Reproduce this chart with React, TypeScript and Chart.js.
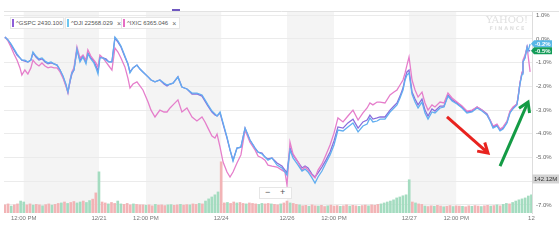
import React, { useEffect, useRef } from "react";
import { Chart, registerables } from "chart.js";
Chart.register(...registerables);

const FONT = "'Liberation Sans', Arial, sans-serif";

// time axis in trading hours since 12/20 open
const times = [
  1.50, 1.66, 1.82, 1.98, 2.14, 2.30, 2.40, 2.56, 2.72, 2.88,
  2.99, 3.15, 3.31, 3.47, 3.63, 3.79, 3.95, 4.11, 4.27, 4.43,
  4.59, 4.74, 4.85, 4.96, 5.06, 5.17, 5.33, 5.49, 5.65, 5.81,
  5.91, 6.07, 6.23, 6.34, 6.45, 6.55, 6.71, 6.87, 7.03, 7.19,
  7.35, 7.51, 7.67, 7.88, 8.04, 8.15, 8.31, 8.52, 8.68, 8.84,
  9.11, 9.27, 9.48, 9.74, 9.96, 10.12, 10.28, 10.44, 10.70, 10.91,
  11.18, 11.45, 11.71, 11.98, 12.14, 12.30, 12.51, 12.67, 12.78, 12.94,
  13.10, 13.31, 13.47, 13.63, 13.84, 14.05, 14.27, 14.53, 14.80, 14.96,
  15.17, 15.33, 15.49, 15.70, 15.97, 16.23, 16.39, 16.50, 16.66, 16.82,
  17.09, 17.30, 17.46, 17.62, 17.83, 17.99, 18.15, 18.36, 18.57, 18.79,
  19.00, 19.21, 19.48, 19.74, 20.01, 20.28, 20.54, 20.76, 20.91, 21.07,
  21.29, 21.45, 21.71, 21.98, 22.19, 22.35, 22.51, 22.67, 22.78, 22.88,
  22.99, 23.15, 23.31, 23.47, 23.68, 23.84, 24.00, 24.21, 24.37, 24.64,
  24.85, 25.06, 25.28, 25.54, 25.81, 26.07, 26.34, 26.61, 26.87, 27.14,
  27.30, 27.46, 27.67, 27.83, 27.99, 28.20, 28.36, 28.52, 28.73, 28.79,
  28.89, 29.00, 29.05, 29.16, 29.27, 29.32, 29.43,
];

const gspc = [
  0.08, -0.04, -0.25, -0.46, -0.68, -0.80, -0.89, -0.93, -0.97, -0.89,
  -0.59, -0.76, -0.89, -0.84, -0.97, -1.05, -1.01, -1.05, -1.10, -1.31,
  -1.60, -1.94, -2.24, -1.81, -1.48, -1.31, -0.46, -0.89, -0.72, -0.97,
  -0.59, -0.80, -0.93, -1.14, -1.35, -0.76, -0.80, -0.84, -0.97, -0.97,
  0.04, -0.13, -0.34, -0.76, -1.05, -1.39, -1.22, -1.10, -1.27, -1.39,
  -1.60, -1.73, -1.81, -1.73, -1.90, -1.98, -1.90, -1.86, -1.60, -2.03,
  -2.11, -2.32, -2.32, -2.41, -2.62, -2.83, -3.08, -3.21, -3.25, -3.12,
  -3.59, -4.18, -4.68, -5.11, -4.60, -4.56, -3.76, -4.26, -4.60, -4.77,
  -4.81, -4.98, -5.06, -5.02, -5.23, -5.36, -5.53, -5.65, -4.60, -4.89,
  -5.19, -5.44, -5.36, -5.44, -5.70, -5.82, -5.65, -5.40, -5.11, -4.77,
  -4.30, -3.71, -3.76, -3.54, -3.38, -3.76, -3.50, -3.42, -3.21, -3.38,
  -3.33, -3.29, -3.29, -3.00, -2.83, -2.70, -2.41, -2.07, -1.65, -1.39,
  -1.31, -2.24, -2.53, -2.78, -2.53, -3.00, -3.25, -2.95, -3.04, -2.83,
  -2.83, -2.36, -2.57, -2.70, -2.87, -3.08, -3.04, -2.87, -3.00, -3.16,
  -3.42, -3.71, -3.63, -3.84, -3.76, -3.50, -3.08, -2.91, -2.74, -2.45,
  -1.86, -1.43, -0.97, -0.76, -0.34, -0.46, -0.51,
];

const dji = [
  0.08, -0.04, -0.21, -0.42, -0.63, -0.80, -0.89, -0.89, -0.97, -0.89,
  -0.55, -0.72, -0.84, -0.80, -0.93, -1.01, -0.97, -1.05, -1.10, -1.31,
  -1.56, -1.90, -2.24, -1.77, -1.43, -1.31, -0.42, -0.97, -0.76, -1.05,
  -0.63, -0.84, -1.01, -1.22, -1.48, -0.80, -0.80, -0.89, -0.97, -0.97,
  0.08, -0.08, -0.30, -0.72, -1.05, -1.43, -1.22, -1.10, -1.27, -1.39,
  -1.60, -1.73, -1.81, -1.73, -1.86, -1.94, -1.90, -1.86, -1.60, -2.03,
  -2.11, -2.28, -2.28, -2.36, -2.57, -2.78, -3.04, -3.16, -3.25, -3.08,
  -3.54, -4.14, -4.68, -5.15, -4.60, -4.56, -3.76, -4.26, -4.60, -4.77,
  -4.85, -4.98, -5.11, -5.02, -5.32, -5.44, -5.61, -5.74, -4.68, -5.02,
  -5.32, -5.57, -5.49, -5.61, -5.86, -6.08, -5.82, -5.57, -5.23, -4.89,
  -4.47, -3.84, -3.88, -3.71, -3.54, -3.92, -3.67, -3.59, -3.33, -3.50,
  -3.46, -3.38, -3.38, -3.08, -2.91, -2.78, -2.49, -2.15, -1.73, -1.52,
  -1.43, -2.32, -2.66, -2.91, -2.66, -3.12, -3.38, -3.08, -3.12, -2.91,
  -2.87, -2.41, -2.62, -2.74, -2.91, -3.12, -3.08, -2.91, -3.04, -3.21,
  -3.46, -3.76, -3.67, -3.88, -3.80, -3.54, -3.12, -2.95, -2.78, -2.49,
  -1.90, -1.48, -0.97, -0.80, -0.34, -0.51, -0.21,
];

const ixic = [
  0.08, -0.08, -0.34, -0.63, -0.89, -1.22, -1.52, -1.31, -1.48, -1.22,
  -0.89, -1.05, -1.14, -1.01, -1.14, -1.22, -1.18, -1.22, -1.22, -1.39,
  -1.65, -1.98, -2.28, -1.73, -1.39, -1.22, -0.34, -0.80, -0.68, -0.89,
  -0.46, -0.72, -0.89, -1.01, -1.18, -0.68, -0.80, -0.97, -1.14, -1.31,
  -0.38, -0.55, -0.80, -1.18, -1.65, -2.07, -1.90, -1.81, -1.98, -2.15,
  -2.66, -3.00, -3.29, -3.00, -3.08, -3.08, -2.91, -2.78, -2.57, -3.08,
  -2.91, -3.29, -3.46, -3.29, -3.50, -3.76, -4.09, -4.18, -4.01, -4.56,
  -5.19, -5.61, -5.82, -5.61, -5.23, -4.89, -3.84, -4.35, -4.68, -4.94,
  -5.02, -5.11, -5.32, -5.36, -5.40, -5.53, -5.61, -6.16, -4.35, -4.85,
  -5.19, -5.53, -5.40, -5.53, -5.74, -5.86, -5.53, -5.27, -4.89, -4.47,
  -3.97, -3.33, -3.50, -3.25, -3.00, -3.42, -3.12, -2.91, -2.70, -2.78,
  -2.66, -2.66, -2.70, -2.36, -2.24, -2.15, -1.94, -1.73, -1.43, -1.10,
  -0.76, -1.73, -2.15, -2.45, -2.24, -2.70, -3.00, -2.78, -2.87, -2.66,
  -2.70, -2.28, -2.49, -2.66, -2.83, -3.04, -3.00, -2.87, -3.00, -3.21,
  -3.42, -3.67, -3.59, -3.80, -3.71, -3.46, -3.04, -2.87, -2.74, -2.45,
  -1.86, -1.39, -0.89, -0.68, -0.34, -0.68, -1.39,
];

// volume, 10-minute bars (millions), starting at volStart
const volStart = 1.5;
const volStepHours = 1 / 6;
const volumes = [
  34, 38, 29, 34, 38, 50, 46, 34, 38, 33, 36, 34, 30, 35, 38, 33, 36, 40,
  42, 46, 40, 44, 48, 42, 46, 50, 44, 52, 58, 84, 172,
  46, 42, 38, 44, 40, 50, 38, 36, 40, 34, 38, 36, 34,
  34, 32, 34, 30, 36, 33, 34, 31, 34, 35, 32, 34, 36, 33, 35, 34, 38, 36, 40, 38,
  50, 59, 67, 76, 88, 214,
  42, 44, 40, 46, 42, 44, 40, 38, 42, 40, 38, 36, 40, 38, 40, 38, 36, 34, 38, 42, 50,
  42, 40, 36, 34,
  30, 32, 28, 34, 30, 29, 32, 27, 30, 33, 29, 31, 28, 30, 34, 29, 32, 30, 28, 31, 33, 30, 34, 32, 36, 38,
  42, 46, 50, 55, 63, 67, 72, 76, 139,
  46, 42, 38, 36,
  29, 27, 30, 28, 32, 29, 26, 28, 31, 27, 30, 29, 28, 26, 30, 28, 31, 29, 27, 30, 32, 29, 31, 34, 30,
  36, 40, 38, 44, 50, 55, 59, 63, 71, 76,
];
const volDirection =
  "ddudd" + "uu" + "ddudduddudd" + "ududduuduud" + "d" + "u" +
  "ddudduudddudd" + "dudduddduuddudduddud" + "uuuuu" + "d" +
  "duddudduddduudduddudd" +
  "uddu" + "dduddudduddduddudduddudddu" + "uuuuuuuu" + "u" +
  "dudd" + "uddudduddudduddudduddudud" + "uuduuuuuuu";
const volumeMarker = 142.12;

const xTickValues = [2.5, 6.5, 9, 13, 16.5, 19, 23, 25.5, 29.5];
const xTickLabels = ["12:00 PM", "12/21", "12:00 PM", "12/24", "12/26", "12:00 PM", "12/27", "12:00 PM", "12"];
const yTickValues = [1, 0, -1, -2, -3, -4, -5, -6, -7];
const shadedBands = [[2.5, 6.5], [9, 13], [16.5, 19], [23, 25.5]];

const legendItems = [
  { label: "^GSPC", value: "2430.100", color: "#8e5ed8", closable: false, left: 10, width: 52 },
  { label: "^DJI", value: "22568.029", color: "#6cc6f0", closable: true, left: 65, width: 55 },
  { label: "^IXIC", value: "6365.046", color: "#e66fc4", closable: true, left: 121, width: 57 },
];

const lastValueTags = [
  { value: -0.2, text: "-0.2%", bg: "#58b7e6" },
  { value: -0.5, text: "-0.5%", bg: "#139c58" },
];

// hand-drawn annotation arrows, in data coordinates [x1, y1] -> tip [x2, y2]
const annotationArrows = [
  { from: [25.01, -3.29], to: [27.19, -4.81], color: "#e8231f" },
  { from: [27.83, -5.36], to: [29.32, -2.66], color: "#149b45" },
];

const COLORS = { gspc: "#8a6ddc", dji: "#62aef0", ixic: "#e57ecb" };

const decorPlugin = {
  id: "decor",
  beforeDraw(chart: any) {
    const { ctx, chartArea, scales } = chart;
    const x = scales.x;
    ctx.save();
    ctx.fillStyle = "#f4f4f4";
    shadedBands.forEach(([a, b]) => {
      const x1 = Math.max(x.getPixelForValue(a), chartArea.left);
      const x2 = Math.min(x.getPixelForValue(b), chartArea.right);
      ctx.fillRect(x1, chartArea.top, x2 - x1, chartArea.bottom - chartArea.top);
    });
    // watermark
    ctx.fillStyle = "#e0e0e0";
    ctx.font = "10px 'DejaVu Serif', serif";
    ctx.textAlign = "center";
    ctx.textBaseline = "middle";
    ctx.fillText("YAHOO!", 507, 20);
    ctx.font = "bold 5px 'DejaVu Sans', sans-serif";
    ctx.fillText("F I N A N C E", 507, 29);
    ctx.restore();
  },
  afterDatasetsDraw(chart: any) {
    const { ctx, scales } = chart;
    const x = scales.x, y = scales.y;
    ctx.save();
    annotationArrows.forEach((a) => {
      const x1 = x.getPixelForValue(a.from[0]);
      const y1 = y.getPixelForValue(a.from[1]);
      const x2 = x.getPixelForValue(a.to[0]);
      const y2 = y.getPixelForValue(a.to[1]);
      const ang = Math.atan2(y2 - y1, x2 - x1);
      ctx.strokeStyle = a.color;
      ctx.lineWidth = 3;
      ctx.lineCap = "butt";
      ctx.beginPath();
      ctx.moveTo(x1, y1);
      ctx.lineTo(x2 - 2 * Math.cos(ang), y2 - 2 * Math.sin(ang));
      ctx.stroke();
      const hl = 11;
      ctx.lineJoin = "miter";
      ctx.beginPath();
      ctx.moveTo(x2 - hl * Math.cos(ang - 0.55), y2 - hl * Math.sin(ang - 0.55));
      ctx.lineTo(x2, y2);
      ctx.lineTo(x2 - hl * Math.cos(ang + 0.55), y2 - hl * Math.sin(ang + 0.55));
      ctx.stroke();
    });
    ctx.restore();
  },
  afterDraw(chart: any) {
    const { ctx, chartArea, scales } = chart;
    ctx.save();
    // top rule
    ctx.strokeStyle = "#e2e2e2";
    ctx.lineWidth = 1;
    ctx.beginPath();
    ctx.moveTo(chartArea.left, chartArea.top + 0.5);
    ctx.lineTo(chart.width, chartArea.top + 0.5);
    ctx.stroke();
    ctx.fillStyle = "#6f58c0";
    ctx.fillRect(172, chartArea.top - 2, 8, 2);
    // last value tags
    ctx.font = "bold 6px " + FONT;
    ctx.textBaseline = "middle";
    ctx.textAlign = "left";
    lastValueTags.forEach((t) => {
      const py = scales.y.getPixelForValue(t.value);
      const x0 = chartArea.right + 1;
      ctx.fillStyle = t.bg;
      ctx.beginPath();
      ctx.moveTo(x0 - 2, py);
      ctx.lineTo(x0 + 1, py - 3.5);
      ctx.lineTo(x0 + 19, py - 3.5);
      ctx.lineTo(x0 + 19, py + 3.5);
      ctx.lineTo(x0 + 1, py + 3.5);
      ctx.closePath();
      ctx.fill();
      ctx.fillStyle = "#ffffff";
      ctx.fillText(t.text, x0 + 2, py + 0.5);
    });
    // volume marker tag
    const vy = scales.yv.getPixelForValue(volumeMarker);
    ctx.fillStyle = "#d3d3d3";
    ctx.fillRect(chartArea.right, vy - 4.5, 27, 9);
    ctx.fillStyle = "#333";
    ctx.font = "6px " + FONT;
    ctx.fillText(volumeMarker.toFixed(2) + "M", chartArea.right + 2, vy + 0.5);
    ctx.restore();
  },
};

export default function App() {
  const ref = useRef<HTMLCanvasElement>(null);
  useEffect(() => {
    document.body.style.margin = "0";
    const canvas = ref.current;
    if (!canvas) return;
    const line = (label: string, vals: number[], color: string) => ({
      type: "line" as const,
      label,
      data: times.map((t, i) => ({ x: t, y: vals[i] })),
      borderColor: color,
      borderWidth: 1.3,
      pointRadius: 0,
      tension: 0,
      fill: false,
      yAxisID: "y",
    });
    const chart = new Chart(canvas, {
      type: "line",
      data: {
        datasets: [
          {
            type: "bar",
            label: "Volume",
            data: volumes.map((v, i) => ({ x: volStart + i * volStepHours, y: v })),
            backgroundColor: volumes.map((_, i) => (volDirection[i] === "u" ? "#a4dcc0" : "#f2b4b6")),
            barThickness: 2,
            yAxisID: "yv",
          } as any,
          line("^DJI", dji, COLORS.dji),
          line("^IXIC", ixic, COLORS.ixic),
          line("^GSPC", gspc, COLORS.gspc),
        ],
      },
      options: {
        animation: false,
        responsive: false,
        maintainAspectRatio: false,
        layout: { padding: { left: 4, top: 11, right: 0, bottom: 0 } },
        plugins: { legend: { display: false }, tooltip: { enabled: false } },
        scales: {
          x: {
            type: "linear",
            offset: false,
            min: 1.45,
            max: 29.53,
            grid: { display: false, drawTicks: false, offset: false },
            border: { display: false },
            afterBuildTicks: (s: any) => {
              s.ticks = xTickValues.map((v) => ({ value: v }));
            },
            afterFit: (s: any) => {
              s.height = 28;
            },
            ticks: {
              autoSkip: false,
              maxRotation: 0,
              padding: 2,
              color: "#777",
              font: { size: 6, family: FONT },
              callback: (v: any) => xTickLabels[xTickValues.indexOf(Number(v))] ?? "",
            },
          },
          y: {
            position: "right",
            min: -7.34,
            max: 1.18,
            afterBuildTicks: (s: any) => {
              s.ticks = yTickValues.map((v) => ({ value: v }));
            },
            afterFit: (s: any) => {
              s.width = 27;
            },
            grid: { color: "#ebebeb", drawTicks: false },
            border: { display: true, color: "#dddddd" },
            ticks: {
              padding: 4,
              color: "#666",
              font: { size: 6, family: FONT },
              callback: (v: any) => Number(v).toFixed(1) + "%",
            },
          },
          yv: { display: false, min: 0, max: 844 },
        },
      } as any,
      plugins: [decorPlugin],
    });
    return () => chart.destroy();
  }, []);

  return (
    <div style={{ position: "relative", width: 559, height: 241, background: "#fff", overflow: "hidden" }}>
      <canvas ref={ref} width={559} height={241} style={{ position: "absolute", left: 0, top: 0 }} />
      {legendItems.map((it) => (
        <div
          key={it.label}
          style={{
            position: "absolute",
            left: it.left,
            top: 17,
            width: it.width,
            height: 10,
            border: "1px solid #e6e6e6",
            background: "#fff",
            display: "flex",
            alignItems: "center",
            fontFamily: FONT,
            fontSize: 6,
            color: "#555",
            whiteSpace: "nowrap",
            boxSizing: "content-box",
          }}
        >
          <span style={{ width: 2, height: 8, background: it.color, marginLeft: 1, marginRight: 2, flex: "none" }} />
          <span>{it.label} {it.value}</span>
          {it.closable && <span style={{ marginLeft: 4, fontSize: 7, color: "#666" }}>×</span>}
        </div>
      ))}
      <div
        style={{
          position: "absolute",
          left: 259,
          top: 187,
          width: 31,
          height: 10,
          border: "1px solid #e6e6e6",
          background: "#fff",
          fontFamily: FONT,
          fontSize: 9,
          color: "#555",
          lineHeight: "10px",
        }}
      >
        <span style={{ position: "absolute", left: 5, top: -1 }}>−</span>
        <span style={{ position: "absolute", left: 20, top: -1 }}>+</span>
      </div>
    </div>
  );
}
